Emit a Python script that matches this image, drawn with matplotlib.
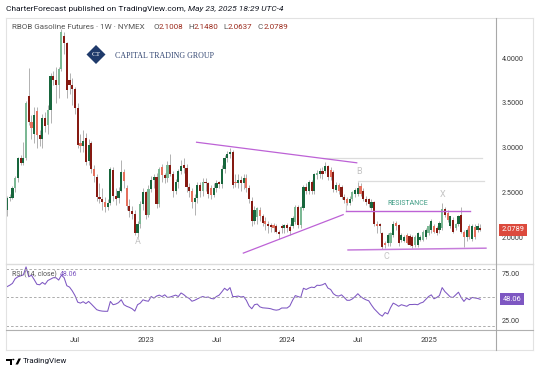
import matplotlib
matplotlib.use("Agg")
import matplotlib.pyplot as plt
from matplotlib.patches import Polygon
from matplotlib.lines import Line2D
from matplotlib.transforms import blended_transform_factory
from matplotlib.ticker import FormatStrFormatter

plt.rcParams['font.family'] = ['Roboto', 'DejaVu Sans']

# weekly RBOB candles
opens = [2.30, 2.44, 2.44, 2.55, 2.66, 2.88, 2.83, 2.88, 3.58, 3.29,
         3.15, 3.41, 3.14, 3.10, 3.33, 3.25, 3.42, 3.80, 3.76, 3.70,
         3.88, 4.25, 4.17, 3.76, 3.70, 3.65, 3.44, 3.05, 3.02, 3.11,
         2.85, 3.05, 2.76, 2.67, 2.45, 2.42, 2.39, 2.33, 2.38, 2.75,
         2.46, 2.44, 2.52, 2.73, 2.55, 2.35, 2.29, 2.26, 2.05, 2.14,
         2.37, 2.50, 2.25, 2.54, 2.64, 2.67, 2.37, 2.78, 2.69, 2.66,
         2.81, 2.70, 2.52, 2.61, 2.74, 2.80, 2.77, 2.56, 2.52, 2.39,
         2.44, 2.58, 2.52, 2.61, 2.60, 2.55, 2.47, 2.55, 2.61, 2.59,
         2.76, 2.88, 2.93, 2.95, 2.62, 2.60, 2.64, 2.60, 2.66, 2.55,
         2.40, 2.18, 2.22, 2.30, 2.23, 2.18, 2.14, 2.13, 2.13, 2.12,
         2.06, 2.12, 2.10, 2.13, 2.11, 2.12, 2.17, 2.33, 2.13, 2.32,
         2.56, 2.51, 2.62, 2.51, 2.69, 2.71, 2.74, 2.74, 2.79, 2.75,
         2.73, 2.53, 2.58, 2.56, 2.45, 2.42, 2.38, 2.43, 2.48, 2.48,
         2.57, 2.51, 2.43, 2.42, 2.32, 2.39, 2.15, 2.14, 2.04, 1.93,
         1.93, 1.93, 2.02, 2.16, 2.13, 1.97, 1.96, 2.02, 2.01, 2.00,
         1.91, 1.91, 1.97, 1.97, 2.00, 2.04, 2.08, 2.12, 2.10, 2.08,
         2.10, 2.31, 2.27, 2.12, 2.19, 2.10, 2.14, 2.25, 2.06, 2.00,
         2.12, 1.98, 2.11, 2.08, 2.1008]
highs = [2.46, 2.48, 2.57, 2.68, 2.90, 2.92, 3.06, 3.52, 3.89, 3.36,
         3.45, 3.45, 3.20, 3.38, 3.40, 3.48, 3.83, 3.86, 3.90, 3.90,
         4.33, 4.29, 4.18, 3.84, 3.78, 3.68, 3.50, 3.15, 3.20, 3.16,
         3.10, 3.07, 2.80, 2.70, 2.60, 2.55, 2.45, 2.42, 2.78, 2.78,
         2.55, 2.56, 2.86, 2.76, 2.58, 2.42, 2.35, 2.30, 2.18, 2.40,
         2.55, 2.52, 2.58, 2.68, 2.70, 2.72, 2.78, 2.82, 2.72, 2.85,
         2.93, 2.74, 2.65, 2.76, 2.86, 2.88, 2.82, 2.60, 2.55, 2.48,
         2.62, 2.62, 2.66, 2.66, 2.62, 2.58, 2.60, 2.64, 2.63, 2.80,
         2.92, 2.96, 2.99, 2.97, 2.70, 2.70, 2.68, 2.70, 2.70, 2.58,
         2.45, 2.35, 2.34, 2.33, 2.26, 2.22, 2.18, 2.16, 2.16, 2.15,
         2.08, 2.15, 2.15, 2.16, 2.14, 2.24, 2.36, 2.36, 2.35, 2.58,
         2.60, 2.64, 2.64, 2.72, 2.75, 2.77, 2.78, 2.84, 2.80, 2.78,
         2.75, 2.62, 2.60, 2.58, 2.48, 2.45, 2.46, 2.52, 2.55, 2.62,
         2.60, 2.55, 2.46, 2.44, 2.42, 2.40, 2.18, 2.16, 2.06, 1.96,
         2.04, 2.06, 2.18, 2.18, 2.15, 2.04, 2.02, 2.04, 2.03, 2.02,
         2.02, 2.06, 2.02, 2.08, 2.10, 2.15, 2.20, 2.14, 2.12, 2.18,
         2.38, 2.33, 2.30, 2.24, 2.22, 2.16, 2.25, 2.34, 2.08, 2.10,
         2.14, 2.14, 2.14, 2.16, 2.148]
lows = [2.24, 2.40, 2.42, 2.50, 2.62, 2.80, 2.80, 2.86, 3.25, 3.10,
        3.05, 3.00, 3.02, 3.00, 3.18, 3.15, 3.28, 3.70, 3.50, 3.55,
        3.86, 4.05, 3.55, 3.60, 3.48, 3.38, 3.00, 2.95, 2.95, 2.80,
        2.80, 2.72, 2.62, 2.40, 2.38, 2.30, 2.28, 2.30, 2.36, 2.40,
        2.36, 2.38, 2.50, 2.55, 2.30, 2.22, 2.20, 2.02, 2.00, 2.10,
        2.30, 2.20, 2.22, 2.50, 2.55, 2.32, 2.34, 2.62, 2.60, 2.62,
        2.68, 2.45, 2.48, 2.55, 2.70, 2.72, 2.50, 2.45, 2.32, 2.25,
        2.38, 2.45, 2.46, 2.52, 2.44, 2.42, 2.45, 2.50, 2.55, 2.55,
        2.72, 2.84, 2.88, 2.55, 2.56, 2.55, 2.52, 2.54, 2.50, 2.38,
        2.12, 2.15, 2.14, 2.18, 2.12, 2.08, 2.05, 2.06, 2.06, 2.04,
        1.98, 2.05, 2.05, 2.06, 2.02, 2.10, 2.15, 2.10, 2.10, 2.30,
        2.48, 2.48, 2.48, 2.48, 2.65, 2.66, 2.65, 2.72, 2.64, 2.64,
        2.50, 2.50, 2.48, 2.42, 2.38, 2.36, 2.36, 2.40, 2.45, 2.46,
        2.46, 2.40, 2.36, 2.34, 2.30, 2.12, 2.05, 2.05, 1.87, 1.88,
        1.90, 1.90, 2.00, 2.08, 1.90, 1.94, 1.94, 1.92, 1.90, 1.88,
        1.89, 1.89, 1.95, 1.95, 1.98, 2.02, 2.05, 2.04, 2.02, 2.05,
        2.08, 2.22, 2.17, 2.10, 2.04, 2.08, 2.12, 2.05, 1.89, 1.96,
        1.98, 1.95, 1.98, 2.06, 2.0637]
closes = [2.44, 2.44, 2.55, 2.66, 2.88, 2.83, 2.88, 3.50, 3.29, 3.22,
          3.37, 3.14, 3.10, 3.33, 3.24, 3.42, 3.80, 3.76, 3.70, 3.88,
          4.29, 4.17, 3.64, 3.70, 3.65, 3.44, 3.03, 3.02, 3.07, 2.84,
          3.03, 2.76, 2.68, 2.45, 2.42, 2.39, 2.33, 2.38, 2.76, 2.46,
          2.42, 2.52, 2.73, 2.63, 2.35, 2.29, 2.26, 2.05, 2.14, 2.37,
          2.50, 2.25, 2.54, 2.64, 2.67, 2.37, 2.76, 2.69, 2.66, 2.81,
          2.70, 2.52, 2.61, 2.74, 2.79, 2.77, 2.56, 2.52, 2.39, 2.44,
          2.58, 2.52, 2.61, 2.60, 2.48, 2.47, 2.55, 2.60, 2.59, 2.76,
          2.88, 2.93, 2.95, 2.58, 2.60, 2.64, 2.60, 2.66, 2.55, 2.43,
          2.18, 2.30, 2.32, 2.23, 2.16, 2.14, 2.12, 2.11, 2.10, 2.06,
          2.03, 2.10, 2.13, 2.10, 2.07, 2.21, 2.33, 2.13, 2.33, 2.56,
          2.51, 2.62, 2.51, 2.70, 2.72, 2.74, 2.70, 2.79, 2.67, 2.67,
          2.54, 2.58, 2.51, 2.45, 2.41, 2.38, 2.43, 2.50, 2.53, 2.55,
          2.48, 2.43, 2.39, 2.37, 2.39, 2.15, 2.12, 2.12, 1.89, 1.91,
          2.02, 2.04, 2.15, 2.12, 1.93, 2.02, 2.00, 1.93, 1.91, 1.90,
          2.00, 2.04, 2.00, 2.06, 2.08, 2.12, 2.18, 2.06, 2.04, 2.16,
          2.31, 2.25, 2.19, 2.23, 2.06, 2.14, 2.23, 2.06, 2.00, 2.08,
          2.00, 2.12, 2.00, 2.12, 2.0789]
# bars drawn in the paler shade
light_bars = [3, 7, 9, 11, 15, 19, 20, 27, 32, 36, 43, 44, 49, 52, 56, 57,
              59, 68, 72, 75, 84, 88, 92, 93, 95, 98, 106, 108, 114, 119,
              122, 125, 127, 130, 136, 139, 141, 143, 147, 150, 153, 155,
              157, 160, 162, 165, 168, 170, 172]

rsi = [61.5, 63, 65, 70, 72, 73, 74, 82.5, 72, 73.7,
       69, 64, 63.5, 66, 64, 68, 69.5, 71, 71, 68.5,
       73.7, 71, 62.5, 61, 57, 52, 45, 44, 45.5, 43.5,
       45.8, 43, 40, 37, 36, 35.5, 35.3, 35.3, 45.8, 42.3,
       43, 44.5, 47.6, 42.3, 40.6, 39.5, 38, 35.5, 42.3, 44,
       47.5, 46.5, 46, 51, 49.3, 51.5, 52.5, 51, 52.8, 50,
       50.5, 51.5, 52.5, 51, 54.8, 53, 50.5, 49, 46, 47,
       48.5, 50, 51, 50, 50.5, 49, 48.5, 51, 52.5, 56,
       59.8, 57.5, 60.5, 51, 51, 51.5, 50.5, 51, 47, 41,
       38, 42.3, 43, 40, 39, 38.8, 38.5, 38, 37, 36.5,
       37, 38.8, 38.8, 38.8, 41, 47, 52, 51, 50, 59.8,
       58.5, 60, 61, 60.5, 63, 62.8, 63.5, 65, 60, 58.5,
       54, 52, 51.5, 52.8, 50, 47, 47, 48.5, 51, 54,
       51, 49, 47.5, 46.5, 42, 38, 35, 32, 30.1, 34,
       32.5, 39, 44, 42.5, 40.6, 42.3, 41.5, 40.6, 42.5, 42.5,
       42.7, 42.3, 44, 45, 48, 51, 52.8, 48.6, 50, 52,
       60.5, 56.3, 53.5, 50.5, 50, 52.8, 55.6, 50, 45.8, 49.3,
       47.6, 50, 49.5, 49, 48.06]

price_ticks = [2.0, 2.5, 3.0, 3.5, 4.0]
rsi_ticks = [25, 75]
rsi_bands = [20, 50, 80]
date_ticks = [25, 51, 77, 103, 129, 155]
date_labels = ['Jul', '2023', 'Jul', '2024', 'Jul', '2025']

# drawings on the chart: (bar, price) pairs
upper_trend = ([69.7, 128.6], [3.06, 2.83])
lower_trend = ([86.9, 123.6], [1.82, 2.25])
resistance = ([124.6, 170.2], [2.294, 2.294])
support = ([125.4, 176.1], [1.855, 1.875])
grey_levels = [(116.2, 174.6, 2.88), (129.0, 175.4, 2.63)]
points = [('A', 48.2, 1.95), ('B', 129.4, 2.73), ('C', 139.6, 1.78), ('X', 160.2, 2.47)]

W, H = 540, 373


def fx(px):
    return px / W


def fy(py):
    return 1 - py / H


fig = plt.figure(figsize=(W / 100, H / 100), dpi=100)
fig.patch.set_facecolor('white')
renderer = fig.canvas.get_renderer()


def text_run(x0, y, parts, size):
    # write pieces of text one after another on the same line
    xp = x0
    for s, col, style in parts:
        t = fig.text(fx(xp), fy(y), s, fontsize=size, color=col, style=style, va='center')
        xp += t.get_window_extent(renderer).width
    return xp


ax = fig.add_axes([fx(6), fy(264), 490 / W, 246 / H])
ax_rsi = fig.add_axes([fx(6), fy(330), 490 / W, 66 / H])

x = list(range(len(closes)))
body_bottom = [min(o, c) for o, c in zip(opens, closes)]
body_height = [max(abs(c - o), 0.008) for o, c in zip(opens, closes)]
colors = []
for i, (o, c) in enumerate(zip(opens, closes)):
    up = c >= o
    if i in light_bars:
        colors.append('#7bb894' if up else '#e4705d')
    else:
        colors.append('#17663c' if up else '#861a12')

ax.vlines(x, lows, highs, color='#9c9c9c', lw=0.55, zorder=2)
ax.bar(x, body_height, bottom=body_bottom, width=0.8, color=colors, lw=0, zorder=3)

# drawings
purple = '#bd62d6'
ax.plot(*upper_trend, color=purple, lw=0.9, zorder=4)
ax.plot(*lower_trend, color=purple, lw=0.9, zorder=4)
ax.plot(*resistance, color=purple, lw=1.0, zorder=4)
ax.plot(*support, color='#c67ddb', lw=1.1, zorder=4)
ax.plot([resistance[0][0]] * 2, [resistance[1][0], 2.39], color='#d5d5d5', lw=0.8, zorder=1)
for x0, x1, lvl in grey_levels:
    ax.plot([x0, x1], [lvl, lvl], color='#dcdcdc', lw=0.9, zorder=1)
for name, px_, py_ in points:
    ax.text(px_, py_, name, color='#c4c4c4', fontsize=6.5, ha='center', va='center', zorder=5)
ax.text(147.4, 2.37, 'RESISTANCE', color='#3f9c84', fontsize=5.0, ha='center', va='center', zorder=5)

ax.set_xlim(-0.37, 179.8)
ax.set_ylim(2 + (237 - 264) / 89.4, 2 + (237 - 18) / 89.4)
ax.set_yticks(price_ticks)
ax.yaxis.set_major_formatter(FormatStrFormatter('%.4f'))
ax.yaxis.tick_right()
ax.tick_params(axis='y', length=0, pad=4.3, labelsize=5.2, labelcolor='#3a3a3a')
ax.set_xticks([])
for s in ax.spines.values():
    s.set_visible(False)

# RSI pane
ax_rsi.plot(x, rsi, color='#7e57c2', lw=0.75)
for b in rsi_bands:
    ax_rsi.axhline(b, color='#a0a0a0', lw=0.6, dashes=(3, 2.5))
ax_rsi.set_xlim(-0.37, 179.8)
ax_rsi.set_ylim(15.4, 85.6)
ax_rsi.set_yticks(rsi_ticks)
ax_rsi.yaxis.set_major_formatter(FormatStrFormatter('%.2f'))
ax_rsi.yaxis.tick_right()
ax_rsi.tick_params(axis='y', length=0, pad=4.3, labelsize=5.2, labelcolor='#3a3a3a')
ax_rsi.set_xticks(date_ticks)
ax_rsi.set_xticklabels(date_labels)
ax_rsi.tick_params(axis='x', length=0, pad=5, labelsize=5.4, labelcolor='#3a3a3a')
for s in ax_rsi.spines.values():
    s.set_visible(False)


def hline(y, x0, x1, color, lw=0.8):
    fig.add_artist(Line2D([fx(x0), fx(x1)], [fy(y), fy(y)], color=color, lw=lw,
                          transform=fig.transFigure))


def vline(xp, y0, y1, color, lw=0.8):
    fig.add_artist(Line2D([fx(xp), fx(xp)], [fy(y0), fy(y1)], color=color, lw=lw,
                          transform=fig.transFigure))


# frame and separators
hline(18, 6, 533, '#e2e2e2')
hline(350, 6, 533, '#e2e2e2')
vline(6, 18, 350, '#e2e2e2')
vline(533, 18, 350, '#e2e2e2')
hline(264, 6, 533, '#dcdcdc', 1.0)
hline(330, 6, 533, '#b0b0b0')
vline(496, 18, 350, '#a8a8a8')

# last value labels
tr = blended_transform_factory(fig.transFigure, ax.transData)
ax.text(fx(513), closes[-1], f'{closes[-1]:.4f}', transform=tr, color='white', fontsize=5.4,
        ha='center', va='center', zorder=10, clip_on=False,
        bbox=dict(boxstyle='square,pad=0.3', fc='#dc4a3d', ec='none'))
tr2 = blended_transform_factory(fig.transFigure, ax_rsi.transData)
ax_rsi.text(fx(512), rsi[-1], f'{rsi[-1]:.2f}', transform=tr2, color='white', fontsize=5.4,
            ha='center', va='center', zorder=10, clip_on=False,
            bbox=dict(boxstyle='square,pad=0.35', fc='#7e57c2', ec='none'))

# RSI legend
text_run(12, 274, [('RSI (14, close)  ', '#555555', 'normal'),
                   (f'{rsi[-1]:.2f}', '#7e57c2', 'normal')], 5.0)

# header
text_run(6, 9, [('CharterForecast published on TradingView.com, ', '#131722', 'normal'),
                ('May 23, 2025 18:29 UTC-4', '#131722', 'italic')], 6.0)

# symbol line
val_col = '#9b2a1c'
fig.text(fx(12), fy(27), 'RBOB Gasoline Futures · 1W · NYMEX', fontsize=5.8, color='#555555', va='center')
ohlc = [('O', opens[-1]), ('H', highs[-1]), ('L', lows[-1]), ('C', closes[-1])]
for k, (lab, v) in enumerate(ohlc):
    text_run(153 + 35 * k, 27, [(lab, '#555555', 'normal'), (f'{v:.4f}', val_col, 'normal')], 5.8)

# Capital Trading Group logo
navy = '#1f3a6b'
fig.add_artist(Polygon([[fx(96), fy(45)], [fx(105.5), fy(54.5)], [fx(96), fy(64)], [fx(86.5), fy(54.5)]],
                       closed=True, fc=navy, ec='none', transform=fig.transFigure))
fig.text(fx(96), fy(54.5), 'CT', fontsize=5.2, color='white', ha='center', va='center',
         family='Liberation Serif')
fig.text(fx(115), fy(55.5), 'CAPITAL TRADING GROUP', fontsize=5.7, color='#2d416e',
         va='center', family='Liberation Serif')

# TradingView footer
fig.add_artist(Polygon([[fx(6), fy(358.5)], [fx(11.5), fy(358.5)], [fx(11.5), fy(364.5)],
                        [fx(9.5), fy(364.5)], [fx(9.5), fy(360.5)], [fx(6), fy(360.5)]],
                       closed=True, fc='black', ec='none', transform=fig.transFigure))
fig.add_artist(plt.Circle((fx(13.3), fy(359.5)), 1.1 / W, fc='black', ec='none',
                          transform=fig.transFigure))
fig.add_artist(Polygon([[fx(15.5), fy(364.5)], [fx(18.5), fy(358.5)], [fx(21), fy(358.5)],
                        [fx(18), fy(364.5)]], closed=True, fc='black', ec='none',
                       transform=fig.transFigure))
fig.text(fx(22.5), fy(361.5), 'TradingView', fontsize=5.8, color='#131722', va='center')

fig.savefig('out.png', dpi=100)
